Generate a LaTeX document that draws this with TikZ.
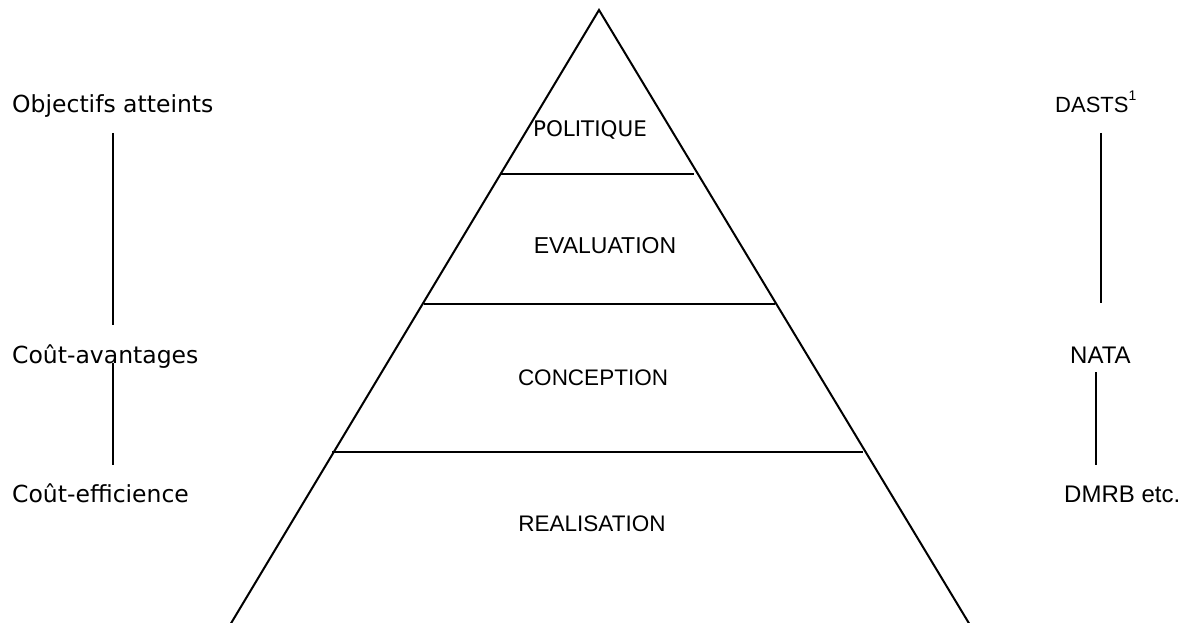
\documentclass[tikz,border=0pt]{standalone}
\usepackage{fontspec}
\setmainfont{DejaVu Sans}
\newfontfamily\arialf{Liberation Sans}
\begin{document}
\begin{tikzpicture}[x=1pt,y=-1pt,
  lbl/.style={inner sep=0pt,anchor=base west,font=\fontsize{23.5}{26}\selectfont},
  rlbl/.style={inner sep=0pt,anchor=base west,font=\arialf\fontsize{24}{28}\selectfont},
  plbl/.style={inner sep=0pt,anchor=base,font=\arialf\fontsize{22.5}{26}\selectfont},
  ln/.style={line width=2pt}]
\useasboundingbox (0,0) rectangle (1191,623);
\clip (0,0) rectangle (1191,623);
% pyramid
\coordinate (apex) at (599,10);
\coordinate (bl) at (230,625);
\coordinate (br) at (970,625);
\draw[ln,line join=miter] (bl) -- (apex) -- (br);
\coordinate (h1l) at (500,174); \coordinate (h1r) at (694,174);
\coordinate (h2l) at (424,304); \coordinate (h2r) at (775,304);
\coordinate (h3l) at (332,452); \coordinate (h3r) at (863,452);
\draw[ln] (h1l) -- (h1r);
\draw[ln] (h2l) -- (h2r);
\draw[ln] (h3l) -- (h3r);
\node[plbl,font=\fontsize{21.5}{24}\selectfont] (pol) at (590,137) {POLITIQUE};
\node[plbl,font=\arialf\fontsize{23}{26}\selectfont] (eva) at (605,253) {EVALUATION};
\node[plbl] (con) at (593,385) {CONCEPTION};
\node[plbl] (rea) at (592,531) {REALISATION};
% left
\node[lbl] (obj) at (12,113) {Objectifs atteints};
\node[lbl] (cav) at (12,363) {Coût-avantages};
\node[lbl] (cef) at (12,502) {Coût-efficience};
\coordinate (l1a) at (113,133); \coordinate (l1b) at (113,325);
\coordinate (l2a) at (113,363); \coordinate (l2b) at (113,465);
\draw[ln] (l1a) -- (l1b);
\draw[ln] (l2a) -- (l2b);
% right
\node[rlbl,font=\arialf\fontsize{22}{26}\selectfont] (dasts) at (1055,113) {DASTS\raisebox{0.55em}{\fontsize{14}{16}\selectfont 1}};
\node[rlbl] (nata) at (1070,363) {NATA};
\node[rlbl] (dmrb) at (1064,502) {DMRB etc.};
\coordinate (r1a) at (1101,133); \coordinate (r1b) at (1101,303);
\coordinate (r2a) at (1096,372); \coordinate (r2b) at (1096,465);
\draw[ln] (r1a) -- (r1b);
\draw[ln] (r2a) -- (r2b);
\end{tikzpicture}
\end{document}
